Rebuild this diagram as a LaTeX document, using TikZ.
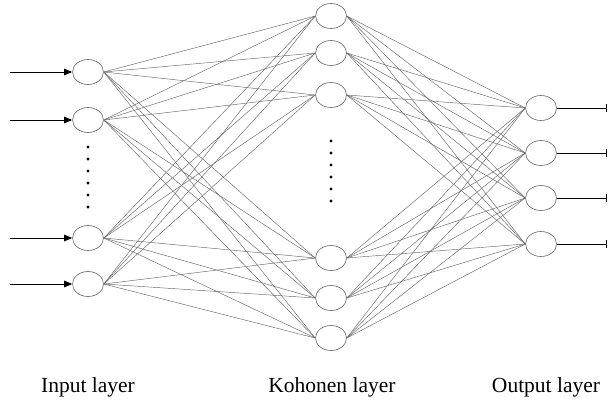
\documentclass[tikz,border=0pt]{standalone}
\usepackage{fontspec}
\setmainfont{Liberation Serif}
\usetikzlibrary{arrows.meta,shapes.geometric}
\begin{document}
\begin{tikzpicture}[x=1pt,y=-1pt,
  neuron/.style={draw=black!60,line width=0.6pt,ellipse,minimum width=31pt,minimum height=25pt,inner sep=0pt},
  link/.style={draw=black!60,line width=0.45pt},
  inarrow/.style={draw=black,line width=1pt,-{Triangle[length=8pt,width=6.5pt]}},
  outarrow/.style={draw=black,line width=1pt,-{Bar[width=8pt,line width=1pt]}},
  dotmark/.style={fill=black,circle,inner sep=0pt,minimum size=3.4pt},
  lab/.style={font=\fontsize{21.5}{24}\selectfont,anchor=base}]
\useasboundingbox (0,0) rectangle (609,402);
% input layer
\foreach \i/\y in {1/72,2/120,3/238,4/284} {
  \node[neuron] (i\i) at (88,\y) {};
  \coordinate (s\i) at (10,\y);
  \draw[inarrow] (s\i) -- (i\i.west);
}
% kohonen layer
\foreach \k/\y in {1/16,2/53,3/95,4/258,5/298,6/338} {
  \node[neuron] (k\k) at (331,\y) {};
}
% output layer
\foreach \o/\y in {1/108,2/153,3/198,4/244} {
  \node[neuron] (o\o) at (541,\y) {};
  \coordinate (e\o) at (607,\y);
  \draw[outarrow] (o\o.east) -- (e\o);
}
% connections
\foreach \i in {1,...,4} \foreach \k in {1,...,6} \draw[link] (i\i.east) -- (k\k.west);
\foreach \k in {1,...,6} \foreach \o in {1,...,4} \draw[link] (k\k.east) -- (o\o.west);
% dots
\foreach \j in {0,...,5} {
  \node[dotmark] (di\j) at (88,147+12*\j) {};
  \node[dotmark] (dk\j) at (331,141+12*\j) {};
}
% labels
\node[lab] (l1) at (88,392) {Input layer};
\node[lab] (l2) at (332,392) {Kohonen layer};
\node[lab] (l3) at (546,392) {Output layer};
\end{tikzpicture}
\end{document}
